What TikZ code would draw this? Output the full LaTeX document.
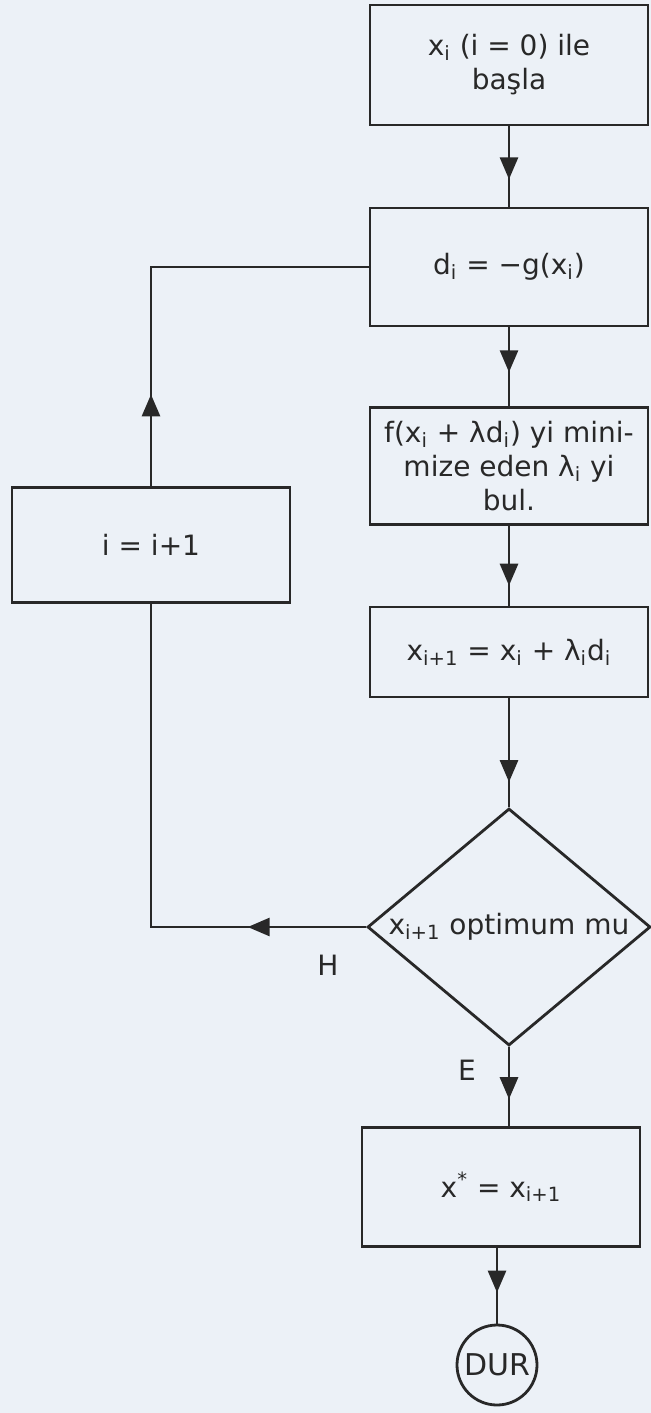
\documentclass[tikz,border=0pt]{standalone}
\usepackage{fontspec}
\setmainfont{DejaVu Sans}
\usepackage{xcolor}
\usetikzlibrary{arrows.meta}
\usetikzlibrary{decorations.markings, positioning, shapes.geometric}
\definecolor{ink}{RGB}{40,40,40}
\definecolor{paper}{RGB}{236,241,247}
\newcommand{\ix}[1]{\textsubscript{#1}}

\begin{document}
\begin{tikzpicture}[x=0.5pt, y=-0.5pt,
    every node/.style={text=ink, font=\fontsize{14}{17}\selectfont},
    stepbox/.style={draw=ink, line width=1.4pt, rectangle, minimum width=139pt, align=center, inner sep=2pt},
    testbox/.style={draw=ink, line width=1.4pt, diamond, aspect=1.19, minimum width=141.5pt, minimum height=118.5pt, inner sep=0pt},
    endbox/.style={draw=ink, line width=1.4pt, circle, minimum size=40pt, inner sep=0pt},
    link/.style={draw=ink, line width=1.4pt},
    midarrow/.style={postaction={decorate}, decoration={markings, mark=at position #1 with {\arrow[ink]{Triangle[width=9pt,length=11pt]}}}}]
    \fill[paper] (0,0) rectangle (651,1413);
    \useasboundingbox (0,0) rectangle (651,1413);

    % main column
    \node[stepbox, minimum height=60pt] (start) at (509,65) {x\ix{i} (i = 0) ile\\başla};
    \node[stepbox, minimum height=59pt] (dir) at (509,267) {d\ix{i} = −g(x\ix{i})};
    \node[stepbox, minimum height=58.5pt] (search) at (509,466) {f(x\ix{i} + λd\ix{i}) yi mini-\\mize eden λ\ix{i} yi\\bul.};
    \node[stepbox, minimum height=45pt] (update) at (509,652) {x\ix{i+1} = x\ix{i} + λ\ix{i}d\ix{i}};
    \node[testbox] (test) at (509,927) {x\ix{i+1} optimum mu};
    \node[stepbox, minimum height=59.5pt] (result) at (501,1187) {x\textsuperscript{*} = x\ix{i+1}};
    \node[endbox, font=\fontsize{15}{17}\selectfont] (stop) at (497,1365) {DUR};

    % loop back
    \node[stepbox, minimum height=57.5pt] (next) at (151,545) {i = i+1};

    % answers
    \node (no) at (328,965) {H};
    \node (yes) at (467,1070) {E};

    \draw[link, midarrow=0.66] (start) -- (dir);
    \draw[link, midarrow=0.57] (dir) -- (search);
    \draw[link, midarrow=0.75] (search) -- (update);
    \draw[link, midarrow=0.77] (update) -- (test);
    \draw[link, midarrow=0.66] (test) -- (test.south |- result.north);
    \draw[link, midarrow=0.59] (result.south -| stop) -- (stop);
    \draw[link, midarrow=0.22] (test.west) -- (next.south |- test.west) -- (next.south);
    \draw[link, midarrow=0.21] (next.north) -- (next.north |- dir.west) -- (dir.west);
\end{tikzpicture}
\end{document}
